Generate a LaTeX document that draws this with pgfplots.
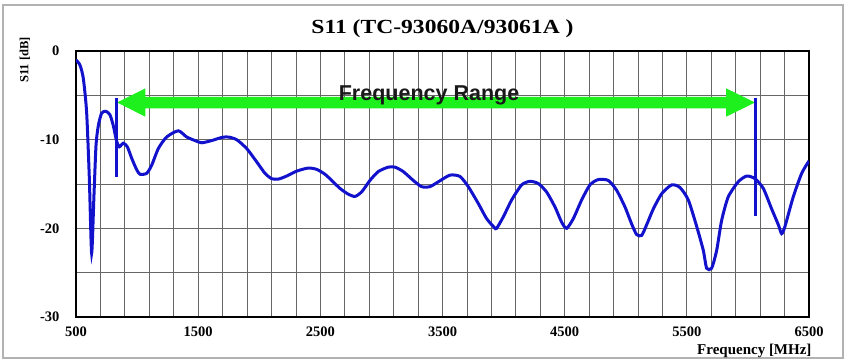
\documentclass[border=0pt]{standalone}
\usepackage{fontspec}
\setmainfont{Liberation Serif}
\newfontfamily\arial{Liberation Sans}
\newfontfamily\titlefont[FakeStretch=1.18]{Liberation Serif}
\usepackage{pgfplots}
\pgfplotsset{compat=1.18}
\definecolor{curveblue}{RGB}{18,18,205}
\definecolor{arrowgreen}{RGB}{30,240,30}
\begin{document}
\begin{tikzpicture}
\path[use as bounding box] (0,0) rectangle (850bp,364bp);
\draw[black!30, line width=1.3bp] (3bp,6bp) rectangle (843bp,359bp);
\begin{axis}[
  at={(76bp,47bp)}, anchor=south west,
  width=733bp, height=266bp, scale only axis,
  xmin=500, xmax=6500, ymin=-30, ymax=0,
  xtick={500,1500,...,6500},
  minor xtick={700,900,...,6300},
  ytick={0,-10,-20,-30},
  minor ytick={-5,-15,-25},
  grid=both,
  major grid style={black!60, line width=0.8bp},
  minor grid style={black!60, line width=0.8bp},
  major tick length=0pt, minor tick length=0pt,
  axis line style={black, line width=1.3bp},
  /pgf/number format/assume math mode=true,
  /pgf/number format/1000 sep={},
  xticklabel style={font=\fontsize{14.5bp}{17bp}\selectfont\bfseries, yshift=-6bp},
  yticklabel style={font=\fontsize{14.5bp}{17bp}\selectfont\bfseries, xshift=-13bp},
  title={S11 (TC-93060A/93061A )},
  title style={font=\titlefont\fontsize{20bp}{23bp}\selectfont\bfseries, at={(axis description cs:0.5,1)}, anchor=base, yshift=11.7bp},
  xlabel={Frequency [MHz]},
  xlabel style={font=\fontsize{15bp}{18bp}\selectfont\bfseries, at={(axis description cs:1,0)}, anchor=base east, xshift=6bp, yshift=-37bp},
  ylabel={S11 [dB]},
  ylabel style={font=\fontsize{12.5bp}{15bp}\selectfont\bfseries, at={(axis description cs:-0.0696,0.966)}, anchor=center},
]
\addplot[curveblue, line width=3bp, smooth, tension=0.4] coordinates {
(500,-1.0) (533,-1.6) (560,-3.1) (587,-6.9) (609,-14.3) (628,-22.8) (647,-16.3)
(664,-10.6) (683,-8.4) (710,-7.0) (745,-6.8) (778,-7.2) (805,-8.4) (833,-10.2)
(855,-10.8) (887,-10.4) (920,-10.8) (956,-12.1) (997,-13.4) (1024,-13.9) (1078,-13.8)
(1119,-12.9) (1174,-11.0) (1242,-9.7) (1337,-9.0) (1406,-9.7) (1474,-10.1) (1529,-10.35)
(1611,-10.1) (1693,-9.75) (1747,-9.7) (1815,-10.0) (1897,-11.0) (1979,-12.5) (2047,-13.8)
(2102,-14.4) (2156,-14.45) (2225,-14.1) (2306,-13.55) (2401,-13.2) (2470,-13.35) (2538,-13.9)
(2593,-14.6) (2661,-15.5) (2729,-16.15) (2784,-16.4) (2838,-15.9) (2906,-14.6) (2974,-13.6)
(3056,-13.1) (3111,-13.1) (3179,-13.6) (3261,-14.6) (3329,-15.3) (3397,-15.3) (3466,-14.75)
(3561,-14.0) (3643,-14.15) (3711,-15.3) (3793,-17.2) (3861,-18.9) (3924,-19.9) (3943,-20.0)
(3998,-18.7) (4066,-16.8) (4148,-15.1) (4216,-14.7) (4284,-14.95) (4352,-15.9) (4421,-17.6)
(4475,-19.3) (4516,-20.0) (4571,-18.9) (4639,-16.8) (4707,-15.1) (4775,-14.5) (4857,-14.6)
(4925,-15.7) (4994,-17.6) (5048,-19.5) (5089,-20.7) (5130,-20.8) (5171,-19.6) (5226,-17.8)
(5294,-16.1) (5376,-15.1) (5444,-15.4) (5512,-16.8) (5581,-19.8) (5635,-22.5) (5662,-24.5)
(5703,-24.5) (5744,-22.5) (5785,-19.1) (5839,-16.45) (5921,-14.75) (5990,-14.1) (6058,-14.4)
(6126,-15.5) (6194,-17.8) (6249,-19.6) (6276,-20.6) (6303,-19.8) (6371,-16.45) (6440,-13.8)
(6500,-12.4)
};
\fill[arrowgreen] (axis cs:836,-5.81) -- (axis cs:1068,-4.21) -- (axis cs:1068,-5.16)
  -- (axis cs:5821,-5.16) -- (axis cs:5821,-4.21) -- (axis cs:6058,-5.81)
  -- (axis cs:5821,-7.41) -- (axis cs:5821,-6.46) -- (axis cs:1068,-6.46)
  -- (axis cs:1068,-7.41) -- cycle;
\addplot[curveblue, line width=2.4bp] coordinates {(830,-5.3) (830,-14.2)};
\addplot[curveblue, line width=2.4bp] coordinates {(6063,-5.3) (6063,-18.6)};
\node[font=\arial\fontsize{21.5bp}{25bp}\selectfont\bfseries, anchor=base, text=black!90] at (axis cs:3390,-5.53) {Frequency Range};
\end{axis}
\end{tikzpicture}
\end{document}
